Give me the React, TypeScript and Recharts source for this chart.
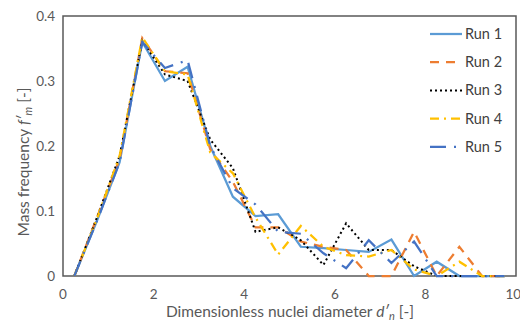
import { LineChart, Line, XAxis, YAxis, ReferenceArea } from 'recharts'

const diameters = [0.25, 0.75, 1.25, 1.75, 2.25, 2.75, 3.25, 3.75, 4.25, 4.75, 5.25, 5.75, 6.25, 6.75, 7.25, 7.75, 8.25, 8.75, 9.25, 9.75]

const run1 = [0, 0.085, 0.175, 0.36, 0.3, 0.322, 0.2, 0.122, 0.092, 0.095, 0.045, 0.043, 0.04, 0.037, 0.056, 0, 0.022, 0, 0, 0]
const run2 = [0, 0.09, 0.18, 0.366, 0.315, 0.312, 0.195, 0.145, 0.075, 0.075, 0.053, 0.045, 0.04, 0, 0, 0.068, 0, 0.045, 0, 0]
const run3 = [0, 0.09, 0.185, 0.362, 0.31, 0.3, 0.21, 0.166, 0.068, 0.075, 0.055, 0.017, 0.081, 0.04, 0.04, 0.015, 0, 0, 0, 0]
const run4 = [0, 0.088, 0.185, 0.367, 0.315, 0.31, 0.19, 0.158, 0.09, 0.033, 0.077, 0.045, 0.032, 0.03, 0.04, 0.01, 0, 0.022, 0, 0]
const run5 = [0, 0.085, 0.175, 0.36, 0.32, 0.332, 0.2, 0.135, 0.11, 0.068, 0.065, 0.035, 0.012, 0.055, 0.02, 0.053, 0, 0, 0, 0]

const xTicks = [0, 2, 4, 6, 8, 10]
const yTicks = [0, 0.1, 0.2, 0.3, 0.4]

const data = diameters.map((d, i) => ({
  d,
  run1: run1[i],
  run2: run2[i],
  run3: run3[i],
  run4: run4[i],
  run5: run5[i],
}))

const series = [
  { key: 'run1', name: 'Run 1', color: '#5B9BD5', dash: undefined, width: 2.25 },
  { key: 'run2', name: 'Run 2', color: '#ED7D31', dash: '9 7', width: 2.25 },
  { key: 'run3', name: 'Run 3', color: '#000000', dash: '2 3', width: 2 },
  { key: 'run4', name: 'Run 4', color: '#FFC000', dash: '9 5 2 5', width: 2.25 },
  { key: 'run5', name: 'Run 5', color: '#4472C4', dash: '16 8 2 8', width: 2.25 },
]

const FONT = 'Lato, "Open Sans", sans-serif'
const GREY = '#595959'

function XTitle() {
  return (
    <text x={290} y={317} textAnchor="middle" fill={GREY} fontSize={15.5} fontFamily={FONT}>
      Dimensionless nuclei diameter <tspan fontStyle="italic">d′</tspan>
      <tspan fontStyle="italic" fontSize={11} dy={3}>n</tspan>
      <tspan dy={-3}> [-]</tspan>
    </text>
  )
}

function YTitle() {
  return (
    <text x={0} y={0} transform="translate(29,162) rotate(-90)" textAnchor="middle" fill={GREY} fontSize={15.5} fontFamily={FONT}>
      Mass frequency <tspan fontStyle="italic">f′</tspan>
      <tspan fontStyle="italic" fontSize={11} dy={3}>m</tspan>
      <tspan dy={-3}> [-]</tspan>
    </text>
  )
}

function RunLegend() {
  return (
    <svg width={90} height={140} style={{ position: 'absolute', left: 425, top: 20 }}>
      {series.map((s, i) => {
        const y = 14 + i * 28.2
        return (
          <g key={s.key}>
            <line x1={5} x2={37} y1={y} y2={y} stroke={s.color} strokeWidth={s.width} strokeDasharray={s.dash} />
            <text x={40} y={y + 5} fill="#404040" fontSize={14.5} fontFamily={FONT}>{s.name}</text>
          </g>
        )
      })}
    </svg>
  )
}

export default function App() {
  return (
    <div style={{ position: 'absolute', left: 0, top: 0, width: 520, height: 321, background: '#fff' }}>
      <LineChart width={520} height={321} data={data} margin={{ top: 16, right: 4, left: 0, bottom: 0 }}>
        <XAxis
          dataKey="d"
          type="number"
          domain={[0, 10]}
          ticks={xTicks}
          tickLine={false}
          tickMargin={7}
          axisLine={false}
          height={45}
          tick={{ fill: GREY, fontSize: 13.5, fontFamily: FONT }}
          label={() => <XTitle />}
        />
        <YAxis
          type="number"
          domain={[0, 0.4]}
          ticks={yTicks}
          tickLine={false}
          axisLine={false}
          width={63}
          tickFormatter={(v: number) => (v === 0 ? '0' : String(v))}
          tick={{ fill: GREY, fontSize: 13.5, fontFamily: FONT }}
          label={() => <YTitle />}
        />
        <ReferenceArea x1={0} x2={10} y1={0} y2={0.4} fill="none" stroke="#595959" strokeWidth={1.5} />
        {series.map((s) => (
          <Line
            key={s.key}
            type="linear"
            dataKey={s.key}
            name={s.name}
            stroke={s.color}
            strokeWidth={s.width}
            strokeDasharray={s.dash}
            dot={false}
            isAnimationActive={false}
          />
        ))}
      </LineChart>
      <RunLegend />
    </div>
  )
}
